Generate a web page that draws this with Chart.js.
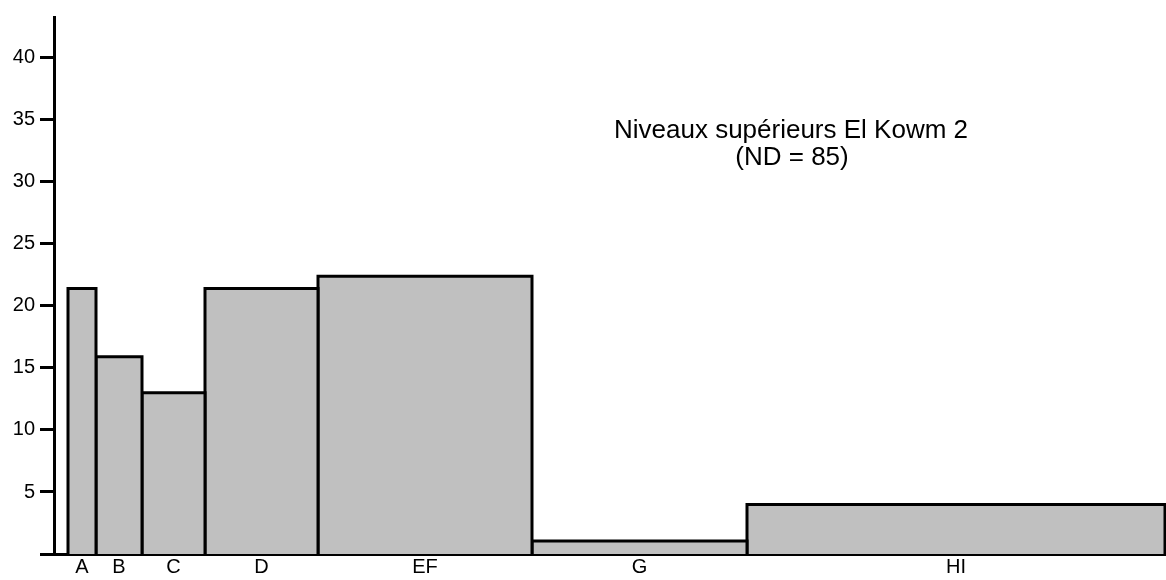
<!DOCTYPE html>
<html>
<head>
<meta charset="utf-8">
<script src="https://cdn.jsdelivr.net/npm/chart.js@4/dist/chart.umd.min.js"></script>
<style>
  html, body { margin: 0; padding: 0; background: #fff; }
  #wrap { width: 1166px; height: 580px; }
</style>
</head>
<body>
<div id="wrap"><canvas id="myChart"></canvas></div>
<script>
// histogram classes, with their left/right bounds on the x axis
var categories = ['A', 'B', 'C', 'D', 'EF', 'G', 'HI'];
var edges = [14, 42, 88, 151, 264, 478, 693, 1111];
var values = [21.4, 15.9, 13.0, 21.4, 22.4, 1.05, 4.0];
var yTicks = [0, 5, 10, 15, 20, 25, 30, 35, 40];
var titleLines = ['Niveaux supérieurs El Kowm 2', '(ND = 85)'];

var FONT = "'Liberation Sans', Arial, sans-serif";

// one closed rectangle per class
var datasets = categories.map(function (c, i) {
  return {
    label: c,
    data: [
      { x: edges[i], y: 0 },
      { x: edges[i], y: values[i] },
      { x: edges[i + 1], y: values[i] },
      { x: edges[i + 1], y: 0 }
    ],
    showLine: true,
    fill: 'origin',
    backgroundColor: '#c0c0c0',
    borderColor: '#000',
    borderWidth: 3,
    borderJoinStyle: 'miter',
    pointRadius: 0,
    tension: 0
  };
});

var centers = categories.map(function (c, i) {
  return (edges[i] + edges[i + 1]) / 2;
});

// the caption in the upper right
var captionPlugin = {
  id: 'caption',
  afterDraw: function (chart) {
    var ctx = chart.ctx;
    ctx.save();
    ctx.fillStyle = '#000';
    ctx.font = '26px ' + FONT;
    ctx.textAlign = 'center';
    ctx.textBaseline = 'alphabetic';
    ctx.fillText(titleLines[0], 791, 138);
    ctx.fillText(titleLines[1], 792, 165);
    ctx.restore();
  }
};

var ctx = document.getElementById('myChart').getContext('2d');
var chart = new Chart(ctx, {
  type: 'scatter',
  data: { datasets: datasets },
  options: {
    responsive: true,
    maintainAspectRatio: false,
    animation: false,
    layout: {
      padding: { top: 11, right: 0, bottom: 0, left: 0 }
    },
    plugins: {
      legend: { display: false },
      tooltip: { enabled: false }
    },
    scales: {
      x: {
        type: 'linear',
        min: 0,
        max: 1112,
        afterBuildTicks: function (scale) {
          scale.ticks = centers.map(function (v) { return { value: v }; });
        },
        afterFit: function (scale) { scale.height = 26; },
        ticks: {
          autoSkip: false,
          maxRotation: 0,
          padding: 1,
          color: '#000',
          font: { family: FONT, size: 20 },
          callback: function (value, index) { return categories[index]; }
        },
        grid: { display: false, drawTicks: false },
        border: { display: true, color: '#000', width: 3 }
      },
      y: {
        min: 0,
        max: 43.3,
        afterBuildTicks: function (scale) {
          scale.ticks = yTicks.map(function (v) { return { value: v }; });
        },
        afterFit: function (scale) { scale.width = 54; },
        ticks: {
          padding: 5,
          color: '#000',
          font: { family: FONT, size: 20 },
          callback: function (value) { return value === 0 ? '' : value; }
        },
        grid: {
          drawOnChartArea: false,
          drawTicks: true,
          tickLength: 14,
          lineWidth: 3,
          color: '#000'
        },
        border: { display: true, color: '#000', width: 3 }
      }
    }
  },
  plugins: [captionPlugin]
});
</script>
</body>
</html>
